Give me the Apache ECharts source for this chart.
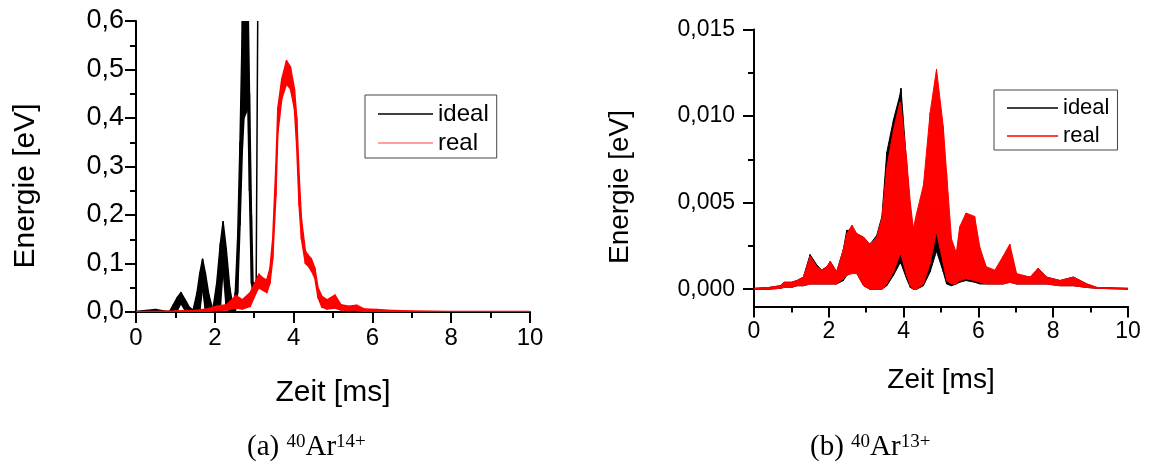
<!DOCTYPE html>
<html>
<head>
<meta charset="utf-8">
<script src="https://cdn.jsdelivr.net/npm/echarts@6/dist/echarts.min.js"></script>
<style>
html,body{margin:0;padding:0;background:#fff;}
#chart{width:1150px;height:472px;}
</style>
</head>
<body>
<div id="chart"></div>
<script>
// ---------- Panel (a): 40Ar14+ ----------
const idealTimeA = [0, 0.25, 0.5, 0.7, 0.85, 0.95, 1.05, 1.14, 1.25, 1.35, 1.45, 1.55, 1.62, 1.69, 1.76, 1.85, 1.95, 2.05, 2.14, 2.21, 2.29, 2.38, 2.47, 2.52, 2.58, 2.64, 2.7, 2.74, 2.84, 2.88, 2.93, 2.97, 3.05, 3.1];
const idealHighA = [0.001, 0.003, 0.005, 0.002, 0.001, 0.015, 0.03, 0.04, 0.025, 0.01, 0.004, 0.04, 0.08, 0.109, 0.08, 0.035, 0.004, 0.06, 0.14, 0.186, 0.13, 0.05, 0.006, 0.04, 0.15, 0.35, 0.6, 0.66, 0.66, 0.45, 0.2, 0.06, 0.06, 0.75];
const idealLowA  = [0, 0.001, 0.002, 0.0005, 0, 0, 0.003, 0.018, 0.003, 0, 0, 0, 0.005, 0.05, 0.005, 0, 0, 0, 0.01, 0.09, 0.01, 0, 0, 0, 0.04, 0.18, 0.34, 0.4, 0.42, 0.25, 0.06, 0.04, 0.06, 0.75];

const realTimeA = [0, 0.5, 1.0, 1.5, 1.8, 2.05, 2.3, 2.54, 2.7, 2.9, 3.05, 3.12, 3.22, 3.32, 3.4, 3.47, 3.55, 3.6, 3.7, 3.82, 3.92, 4.02, 4.08, 4.14, 4.2, 4.3, 4.37, 4.45, 4.54, 4.62, 4.72, 4.85, 5.05, 5.2, 5.4, 5.6, 5.8, 6.1, 6.5, 7.0, 8.0, 10.0];
const realHighA = [0.001, 0.001, 0.002, 0.003, 0.006, 0.012, 0.015, 0.034, 0.025, 0.04, 0.065, 0.078, 0.07, 0.066, 0.09, 0.15, 0.3, 0.42, 0.48, 0.518, 0.505, 0.46, 0.4, 0.28, 0.19, 0.125, 0.117, 0.11, 0.09, 0.05, 0.032, 0.025, 0.035, 0.015, 0.012, 0.014, 0.006, 0.005, 0.003, 0.002, 0.001, 0.001];
const realLowA  = [0, 0, 0, 0, 0.001, 0.003, 0.004, 0.008, 0.006, 0.012, 0.04, 0.05, 0.045, 0.04, 0.06, 0.11, 0.24, 0.37, 0.44, 0.47, 0.46, 0.42, 0.34, 0.22, 0.15, 0.1, 0.095, 0.085, 0.07, 0.03, 0.01, 0.006, 0.008, 0.004, 0.003, 0.003, 0.001, 0.001, 0, 0, 0, 0];

// ---------- Panel (b): 40Ar13+ ----------
const timeB = [0, 0.4, 0.7, 0.8, 1.0, 1.15, 1.32, 1.5, 1.68, 1.81, 1.95, 2.04, 2.21, 2.39, 2.48, 2.62, 2.75, 2.93, 3.1, 3.28, 3.42, 3.55, 3.73, 3.9, 3.93, 4.08, 4.18, 4.26, 4.35, 4.53, 4.71, 4.88, 5.06, 5.15, 5.28, 5.41, 5.5, 5.67, 5.9, 6.04, 6.21, 6.44, 6.66, 6.84, 7.02, 7.38, 7.6, 7.82, 8.18, 8.54, 8.9, 9.17, 10];
const idealHighB = [0.00005, 0.0001, 0.0002, 0.0004, 0.0004, 0.0005, 0.0007, 0.002, 0.0014, 0.0011, 0.0013, 0.0016, 0.001, 0.0023, 0.0034, 0.0034, 0.0032, 0.003, 0.0026, 0.0031, 0.0042, 0.0079, 0.0098, 0.0112, 0.0116, 0.0073, 0.0045, 0.0032, 0.0033, 0.0038, 0.0046, 0.0058, 0.0045, 0.0025, 0.0012, 0.0018, 0.0034, 0.0043, 0.0038, 0.0022, 0.0012, 0.001, 0.0018, 0.0024, 0.0008, 0.0007, 0.0012, 0.0007, 0.0005, 0.0007, 0.0003, 0.0001, 0.00005];
const idealLowB  = [0, 0, 0.00005, 0.0001, 0.0001, 0.0002, 0.0002, 0.0003, 0.0003, 0.0003, 0.0003, 0.0003, 0.0003, 0.0005, 0.0008, 0.001, 0.0009, 0.0002, 0, 0, 0, 0.0002, 0.0008, 0.0015, 0.0015, 0.0006, 0.0001, 0, 0, 0.0002, 0.001, 0.0022, 0.001, 0.0003, 0.0002, 0.0003, 0.0004, 0.0005, 0.0004, 0.0003, 0.0003, 0.0003, 0.0003, 0.0004, 0.0003, 0.0003, 0.0003, 0.0003, 0.0002, 0.0002, 0.0001, 0.00005, 0];
const realHighB  = [0.00005, 0.0001, 0.0002, 0.0004, 0.0004, 0.0005, 0.0007, 0.0019, 0.0013, 0.0011, 0.0013, 0.0016, 0.001, 0.0023, 0.0032, 0.0037, 0.0032, 0.003, 0.0026, 0.003, 0.0041, 0.007, 0.0092, 0.0108, 0.0106, 0.0075, 0.005, 0.0035, 0.0044, 0.006, 0.0102, 0.0127, 0.0094, 0.0067, 0.0029, 0.0021, 0.0036, 0.0044, 0.0042, 0.0024, 0.0013, 0.0011, 0.0019, 0.0026, 0.0009, 0.0007, 0.0012, 0.0007, 0.0005, 0.0007, 0.0003, 0.0001, 0.00005];
const realLowB   = [0, 0, 0.00005, 0.0001, 0.0001, 0.0002, 0.0002, 0.0003, 0.0003, 0.0003, 0.0003, 0.0003, 0.0003, 0.0006, 0.0008, 0.0009, 0.0009, 0.0002, 0, 0, 0, 0.0003, 0.001, 0.002, 0.002, 0.0008, 0.0002, 0, 0, 0.0003, 0.0015, 0.0033, 0.0015, 0.0005, 0.0003, 0.0003, 0.0005, 0.0006, 0.0005, 0.0004, 0.0003, 0.0003, 0.0003, 0.0004, 0.0003, 0.0003, 0.0003, 0.0003, 0.0002, 0.0002, 0.0001, 0.00005, 0];

// ---------- Axis ticks / labels ----------
const yTicksA = { min: 0, max: 0.6, interval: 0.1 };
const xTicks = { min: 0, max: 10, interval: 2 };
const yLabelValuesB = [0, 0.005, 0.01, 0.015];
const yMinorValuesB = [0.0025, 0.0075, 0.0125];
const yRangeB = { min: -0.001, max: 0.015 };

const legendNames = ['ideal', 'real'];
const xName = 'Zeit [ms]';
const yName = 'Energie [eV]';
const captionA = '(a) {sup|40}Ar{sup|14+}';
const captionB = '(b) {sup|40}Ar{sup|13+}';

const SANS = '"Liberation Sans", Arial, sans-serif';
const SERIF = '"Liberation Serif", "DejaVu Serif", serif';

// A band (oscillation envelope) drawn as quads between consecutive samples,
// each corner positioned with the axis scales via api.coord.
function band(name, t, low, high, color, gi, yi, lw) {
  const segs = [];
  for (let i = 0; i < t.length - 1; i++) {
    segs.push([t[i], low[i], high[i], t[i + 1], low[i + 1], high[i + 1]]);
  }
  return {
    name: name, type: 'custom', xAxisIndex: gi, yAxisIndex: yi, clip: true,
    itemStyle: { color: color }, animation: false, silent: true,
    encode: { x: [0, 3], y: [1, 2, 4, 5] },
    data: segs,
    renderItem: function (params, api) {
      const a = api.coord([api.value(0), api.value(1)]);
      const b = api.coord([api.value(0), api.value(2)]);
      const c = api.coord([api.value(3), api.value(5)]);
      const d = api.coord([api.value(3), api.value(4)]);
      return {
        type: 'polygon',
        shape: { points: [a, b, c, d] },
        style: { fill: color, stroke: color, lineWidth: lw, lineJoin: 'round' }
      };
    }
  };
}

function xAxisCfg(gi, gap, fs, nfs) {
  return {
    type: 'value', gridIndex: gi, min: xTicks.min, max: xTicks.max, interval: xTicks.interval,
    name: xName, nameLocation: 'middle', nameGap: gap,
    nameTextStyle: { fontFamily: SANS, fontSize: nfs, color: '#000' },
    axisLine: { onZero: false, lineStyle: { color: '#000', width: 2 } },
    axisTick: { length: 11, lineStyle: { color: '#000', width: 2 } },
    minorTick: { show: true, splitNumber: 2, length: 6, lineStyle: { color: '#000', width: 2 } },
    axisLabel: { margin: 14, fontFamily: SANS, fontSize: fs, color: '#000' },
    splitLine: { show: false }, minorSplitLine: { show: false }
  };
}

const option = {
  backgroundColor: '#fff',
  animation: false,
  grid: [
    { left: 136, top: 21, width: 394, height: 291 },
    { left: 754, top: 29.5, width: 374, height: 277 }
  ],
  xAxis: [xAxisCfg(0, 66, 24, 30), xAxisCfg(1, 60, 23, 28)],
  yAxis: [
    {
      type: 'value', gridIndex: 0, min: yTicksA.min, max: yTicksA.max, interval: yTicksA.interval,
      axisLine: { show: true, onZero: false, lineStyle: { color: '#000', width: 2 } },
      axisTick: { show: true, length: 11, lineStyle: { color: '#000', width: 2 } },
      minorTick: { show: true, splitNumber: 2, length: 6, lineStyle: { color: '#000', width: 2 } },
      axisLabel: { margin: 12, fontFamily: SANS, fontSize: 27, color: '#000',
        formatter: v => v.toFixed(1).replace('.', ',') },
      splitLine: { show: false }, minorSplitLine: { show: false }
    },
    {
      type: 'value', gridIndex: 1, min: yRangeB.min, max: yRangeB.max,
      axisLine: { show: true, onZero: false, lineStyle: { color: '#000', width: 2 } },
      axisTick: { show: true, length: 11, customValues: yLabelValuesB, lineStyle: { color: '#000', width: 2 } },
      axisLabel: { margin: 19, fontFamily: SANS, fontSize: 23, color: '#000', customValues: yLabelValuesB,
        formatter: v => v.toFixed(3).replace('.', ',') },
      splitLine: { show: false }
    },
    {
      type: 'value', gridIndex: 1, min: yRangeB.min, max: yRangeB.max, position: 'left',
      axisLine: { show: false, onZero: false },
      axisTick: { show: true, length: 6, customValues: yMinorValuesB, lineStyle: { color: '#000', width: 2 } },
      axisLabel: { show: false },
      splitLine: { show: false }
    }
  ],
  legend: [
    {
      left: 365, top: 95, orient: 'vertical', selectedMode: false,
      padding: [7, 8, 3, 13], itemGap: 5, itemWidth: 55, itemHeight: 1.5, icon: 'rect',
      borderColor: '#444', borderWidth: 1, backgroundColor: '#fff',
      textStyle: { fontFamily: SANS, fontSize: 24, color: '#000' },
      data: [
        { name: legendNames[0], itemStyle: { color: '#000' } },
        { name: legendNames[1], itemStyle: { color: '#ff8080' } }
      ]
    },
    {
      left: 994, top: 90, orient: 'vertical', selectedMode: false,
      padding: [7, 8, 3, 13], itemGap: 6, itemWidth: 51, itemHeight: 1.5, icon: 'rect',
      borderColor: '#444', borderWidth: 1, backgroundColor: '#fff',
      textStyle: { fontFamily: SANS, fontSize: 22, color: '#000' },
      data: [
        { name: legendNames[0], itemStyle: { color: '#000' } },
        { name: legendNames[1], itemStyle: { color: '#ff0000' } }
      ]
    }
  ],
  graphic: [
    { type: 'text', x: 26, y: 186, rotation: Math.PI / 2,
      style: { text: yName, font: '30px ' + SANS, fill: '#000', align: 'center', verticalAlign: 'middle' } },
    { type: 'text', x: 620, y: 187, rotation: Math.PI / 2,
      style: { text: yName, font: '28px ' + SANS, fill: '#000', align: 'center', verticalAlign: 'middle' } },
    { type: 'text', left: 247, top: 433,
      style: { text: captionA, fontFamily: SERIF, fontSize: 29, fill: '#000',
        rich: { sup: { fontFamily: SERIF, fontSize: 19, verticalAlign: 'top' } } } },
    { type: 'text', left: 810, top: 433,
      style: { text: captionB, fontFamily: SERIF, fontSize: 29, fill: '#000',
        rich: { sup: { fontFamily: SERIF, fontSize: 19, verticalAlign: 'top' } } } }
  ],
  series: [
    band(legendNames[0], idealTimeA, idealLowA, idealHighA, '#000000', 0, 0, 1.5),
    band(legendNames[1], realTimeA, realLowA, realHighA, '#ff0000', 0, 0, 1.5),
    band(legendNames[0], timeB, idealLowB, idealHighB, '#000000', 1, 1, 1),
    band(legendNames[1], timeB, realLowB, realHighB, '#ff0000', 1, 1, 1)
  ]
};

const chart = echarts.init(document.getElementById('chart'), null, { renderer: 'canvas' });
chart.setOption(option);
</script>
</body>
</html>
